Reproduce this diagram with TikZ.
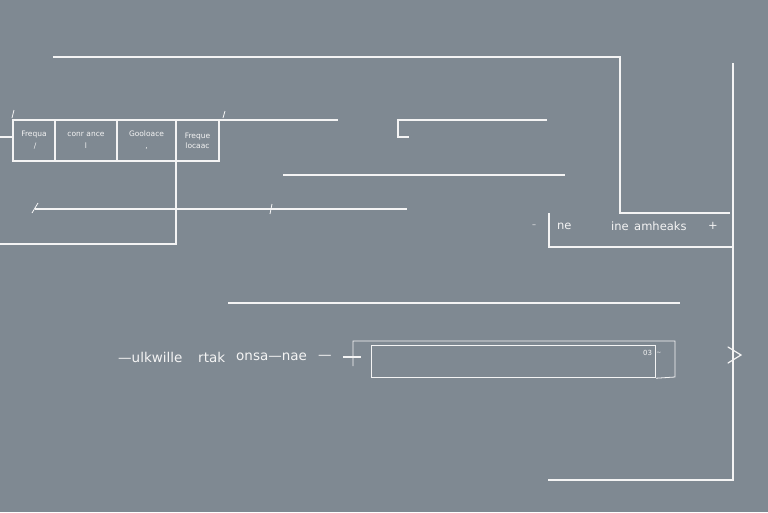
\documentclass[tikz,border=0pt]{standalone}
\usepackage{fontspec}
\setsansfont{DejaVu Sans}
\usepackage{tikz}
\usetikzlibrary{positioning}
\definecolor{Slate}{HTML}{7F8992}
\definecolor{Chalk}{HTML}{F4F4F4}

\begin{document}
\begin{tikzpicture}[x=1pt,y=-1pt,
  wire/.style={draw=Chalk,line width=1.2pt},
  thinwire/.style={draw=Chalk!85,line width=0.8pt},
  cell/.style={draw=Chalk,line width=1.2pt,outer sep=0pt,minimum height=41pt,inner sep=1pt,text=Chalk,align=center,font=\sffamily\fontsize{7.5}{9}\selectfont},
  lbl/.style={text=Chalk,inner sep=0pt,anchor=west,font=\sffamily\fontsize{11.5}{13}\selectfont},
  biglbl/.style={lbl,font=\sffamily\fontsize{13.5}{15}\selectfont}]
% Background
\fill [Slate] (0,0) rectangle (768,512);
\useasboundingbox (0,0) rectangle (768,512);
% Table of cells
\node [cell,minimum width=42pt,anchor=north west] (c1) at (13,120) {Frequa\\[3pt] \,\,/};
\node [cell,minimum width=62pt,right=0pt of c1] (c2) {conr ance\\[3pt] l};
\node [cell,minimum width=59pt,right=0pt of c2] (c3) {Gooloace\\[3pt] ,};
\node [cell,minimum width=43pt,right=0pt of c3] (c4) {Freque\\[1pt] locaac};
\coordinate (inl) at (0,137);
\coordinate (outr) at (338,120);
\coordinate (outl) at (0,244);
\draw [wire] (inl) -- (inl -| c1.west);
\draw [wire] (c4.north east) -- (outr);
\draw [wire] (c3.south east) |- (outl);
\draw [thinwire] (c1.north west) ++(-1,-2) -- ++(2,-8);
\draw [thinwire] (c4.north east) ++(4,-2) -- ++(2,-7);
% Middle lines
\coordinate (m1) at (35,209);
\coordinate (m2) at (272,209);
\coordinate (m3) at (407,209);
\draw [wire] (m1) -- (m3);
\draw [thinwire] (m1) ++(-3,4) -- ++(6,-10);
\draw [thinwire] (m2) ++(-2,5) -- ++(2,-10) (m2) ++(-4,0) -- ++(9,0);
\coordinate (r1) at (283,175);
\coordinate (r2) at (565,175);
\draw [wire] (r1) -- (r2);
\coordinate (f1) at (398,120);
\coordinate (f2) at (547,120);
\draw [wire] (f2) -- (f1) -- ++(0,17) -- ++(11,0);
\coordinate (s1) at (228,303);
\coordinate (s2) at (680,303);
\draw [wire] (s1) -- (s2);
% Outer frame on the right
\coordinate (p1) at (53,57);
\coordinate (p2) at (620,57);
\coordinate (p3) at (730,213);
\draw [wire] (p1) -- (p2) |- (p3);
\coordinate (q1) at (733,63);
\coordinate (q2) at (733,480);
\coordinate (q3) at (548,480);
\draw [wire] (q1) -- (q2) -- (q3);
\coordinate (k1) at (549,213);
\coordinate (k2) at (733,247);
\draw [wire] (k1) |- (k2);
\node [lbl,font=\sffamily\fontsize{8}{9}\selectfont] (dash) at (532,226) {--};
\node [lbl] (w1) at (557,226) {ne};
\node [lbl] (w2) at (611,226) {ine};
\node [lbl] (w3) at (634,226) {amheaks};
\node [lbl] (w4) at (708,226) {+};
\draw [wire,line cap=round] (728,347) -- (741,355) -- (728,363);
% Bottom bar
\node [biglbl] (b1) at (118,357) {---ulkwille};
\node [biglbl] (b2) at (198,357) {rtak};
\node [biglbl] (b3) at (236,357) {onsa---nae};
\node [biglbl] (b4) at (318,357) {---};
\node [draw=Chalk,line width=1.2pt,minimum width=284pt,minimum height=32pt,anchor=north west] (bar) at (371,345) {};
\node [text=Chalk,inner sep=0pt,font=\sffamily\fontsize{7}{8}\selectfont,anchor=north east] (tag) at ([xshift=-4pt,yshift=-5pt]bar.north east) {03};
\node [text=Chalk!80,inner sep=0pt,font=\sffamily\fontsize{6}{7}\selectfont,right=4pt of tag] (tick) {\textasciitilde};
\draw [thinwire] (353,366) -- (353,341) -- (675,341) -- (675,377) -- (bar.south east);
\draw [wire] (343,357) -- (361,357);
\end{tikzpicture}
\end{document}
